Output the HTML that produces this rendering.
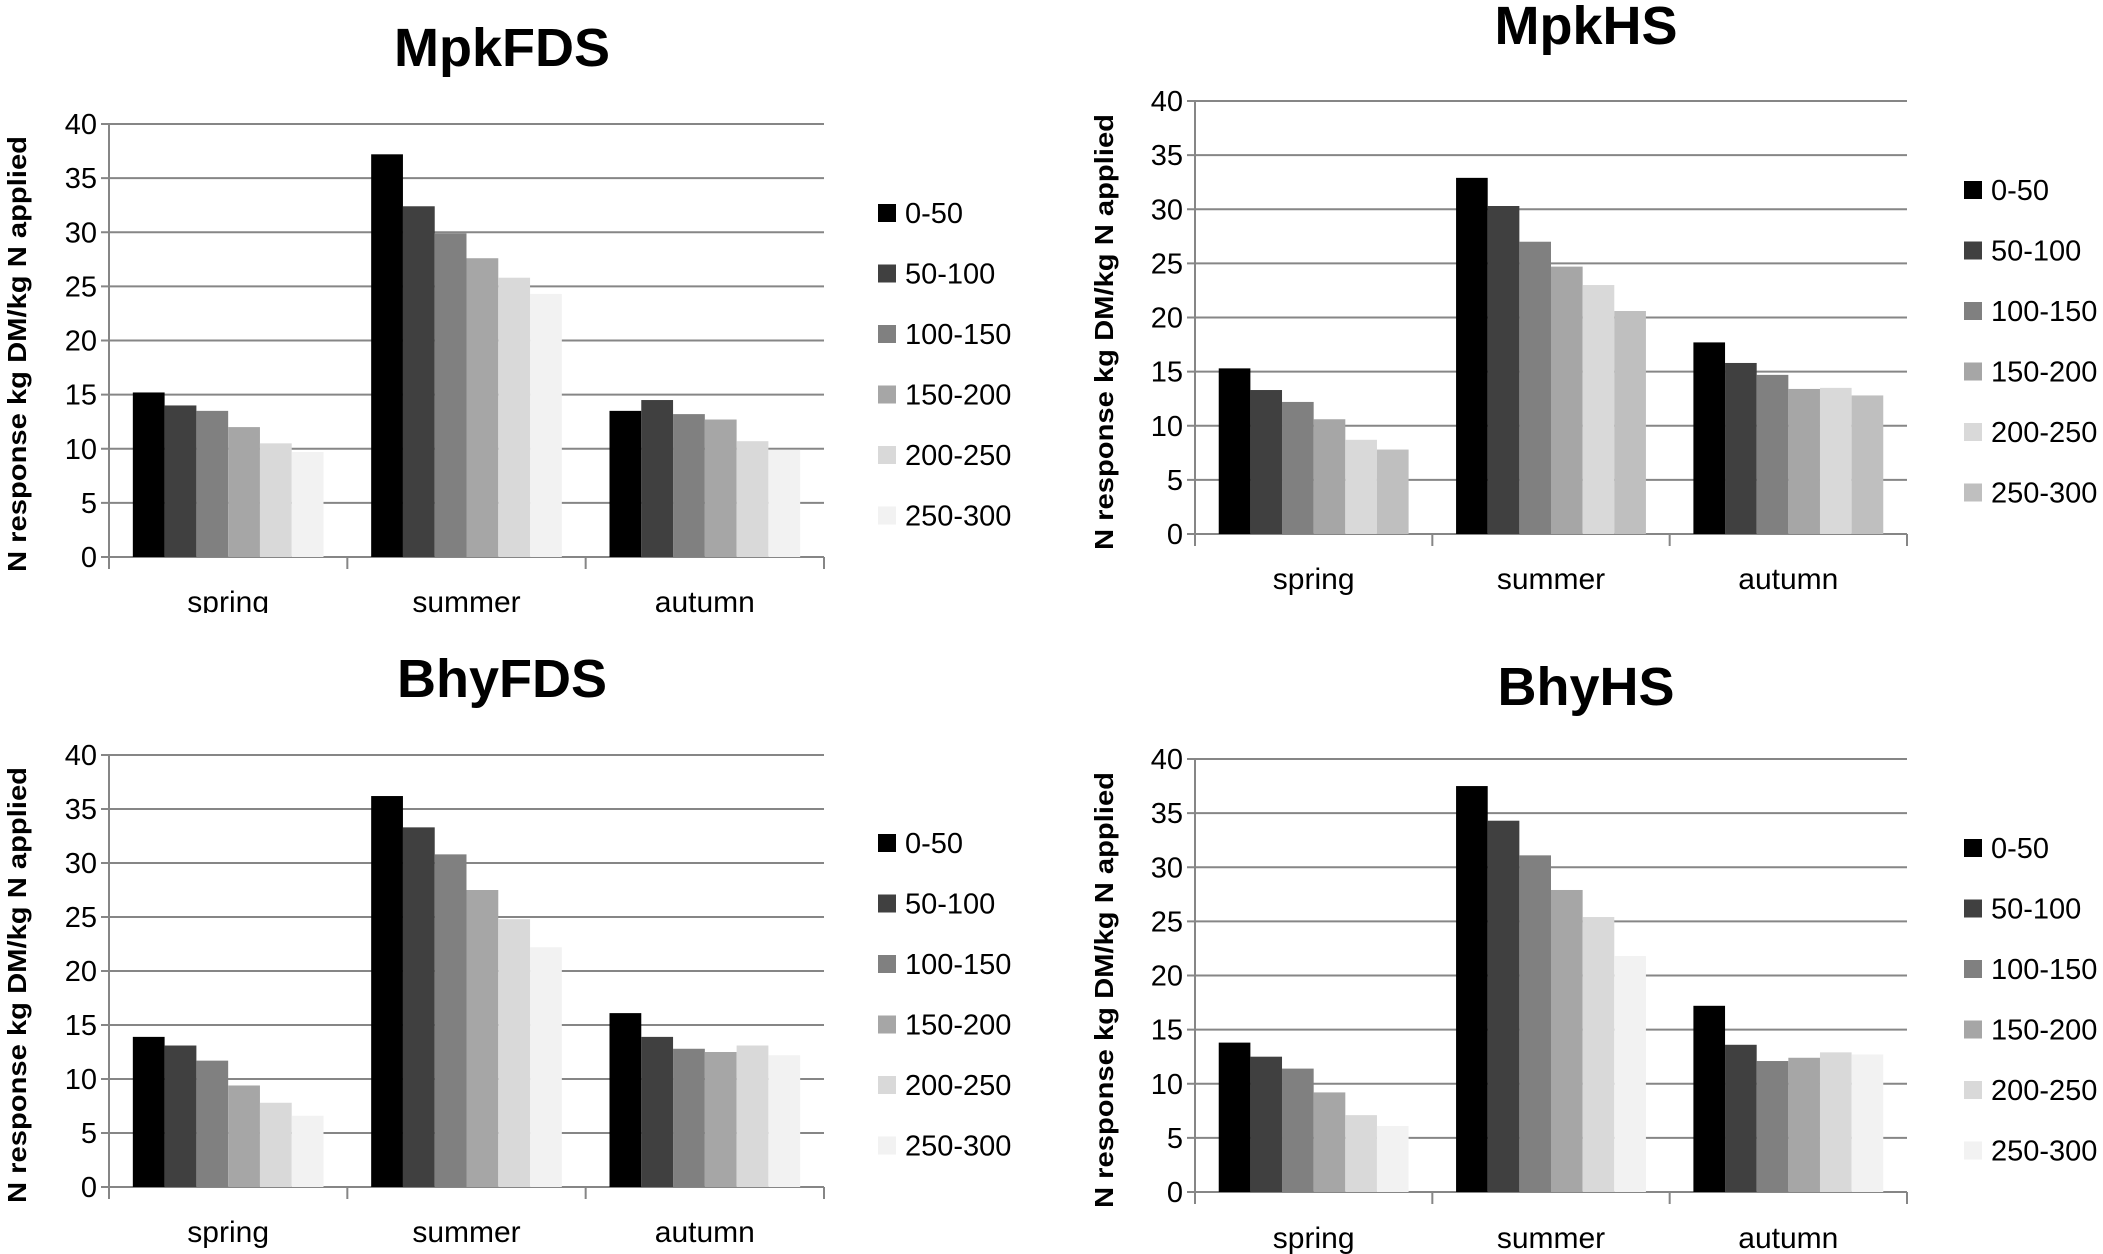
<!DOCTYPE html>
<html><head><meta charset="utf-8"><style>
html,body{margin:0;padding:0;background:#fff;}
svg{display:block;}
text{font-family:"Liberation Sans Narrow","Liberation Sans",sans-serif;}
</style></head><body>
<svg id="fig" width="2103" height="1254" viewBox="0 0 2103 1254" xmlns="http://www.w3.org/2000/svg">
<defs><clipPath id="clipTL"><rect x="0" y="0" width="1050" height="613"/></clipPath></defs>
</svg>
<script>
const categories = ["spring","summer","autumn"];
const seriesNames = ["0-50","50-100","100-150","150-200","200-250","250-300"];
const yTicks = [0,5,10,15,20,25,30,35,40];
const titles = ["MpkFDS","MpkHS","BhyFDS","BhyHS"];
const mpkFDS = [[15.2,14.0,13.5,12.0,10.5,9.7],[37.2,32.4,29.9,27.6,25.8,24.3],[13.5,14.5,13.2,12.7,10.7,9.9]];
const mpkHS  = [[15.3,13.3,12.2,10.6,8.7,7.8],[32.9,30.3,27.0,24.7,23.0,20.6],[17.7,15.8,14.7,13.4,13.5,12.8]];
const bhyFDS = [[13.9,13.1,11.7,9.4,7.8,6.6],[36.2,33.3,30.8,27.5,24.8,22.2],[16.1,13.9,12.8,12.5,13.1,12.2]];
const bhyHS  = [[13.8,12.5,11.4,9.2,7.1,6.1],[37.5,34.3,31.1,27.9,25.4,21.8],[17.2,13.6,12.1,12.4,12.9,12.7]];

const NS="http://www.w3.org/2000/svg";
const svg=document.getElementById('fig');
function mk(tag,attrs,parent){const e=document.createElementNS(NS,tag);for(const k in attrs)e.setAttribute(k,attrs[k]);parent.appendChild(e);return e;}

const panels=[
 {data:mpkFDS,title:titles[0],x0:109,x1:824,yTop:124,yBot:557,tx:502,ty:48,lx:878,ly:204,yt:354,ytx:17,clip:true,lastColor:"#f2f2f2",catY:612},
 {data:mpkHS,title:titles[1],x0:1195,x1:1907,yTop:101,yBot:534,tx:1586,ty:26,lx:1964,ly:181,yt:332,ytx:1104,clip:false,lastColor:"#bfbfbf",catY:589},
 {data:bhyFDS,title:titles[2],x0:109,x1:824,yTop:755,yBot:1187,tx:502,ty:679,lx:878,ly:834,yt:985,ytx:17,clip:false,lastColor:"#f2f2f2",catY:1242},
 {data:bhyHS,title:titles[3],x0:1195,x1:1907,yTop:759,yBot:1192,tx:1586,ty:687,lx:1964,ly:839,yt:990,ytx:1104,clip:false,lastColor:"#f2f2f2",catY:1248}
];

panels.forEach((p,pi)=>{
 const g=mk('g',{},svg);
 
 
 if(p.clip) g.setAttribute('clip-path','url(#clipTL)');
 const colors=["#000000","#404040","#808080","#a6a6a6","#d9d9d9",p.lastColor];
 const yS=v=>p.yBot-(v/40)*(p.yBot-p.yTop);
 const catW=(p.x1-p.x0)/categories.length;
 const xC=i=>p.x0+catW*i;
 // title
 const t=mk('text',{x:p.tx,y:p.ty+18,'text-anchor':'middle','font-size':54,'font-weight':'bold',fill:'#000'},g);
 t.textContent=p.title;
 
 
 // grid + ticks
 yTicks.forEach(v=>{
  const y=yS(v);
  const ln=mk('line',{x1:p.x0-8,x2:p.x1,y1:y,y2:y,stroke:'#868686','stroke-width':2},g);
  
  
  const tl=mk('text',{x:p.x0-12,y:y+10,'text-anchor':'end','font-size':29,fill:'#000'},g);
  tl.textContent=v;
  
  
 });
 const ax=mk('line',{x1:p.x0,x2:p.x0,y1:p.yTop,y2:p.yBot+12,stroke:'#868686','stroke-width':2},g);
 
 
 for(let i=1;i<=categories.length;i++){
  const tk=mk('line',{x1:xC(i),x2:xC(i),y1:p.yBot,y2:p.yBot+12,stroke:'#868686','stroke-width':2},g);
  
  
 }
 // bars
 const pad=catW*0.1;
 const bw=(catW-2*pad)/seriesNames.length;
 categories.forEach((c,ci)=>{
  p.data[ci].forEach((v,si)=>{
   const x=xC(ci)+pad+si*bw;
   const r=mk('rect',{x:x,y:yS(v),width:bw,height:yS(0)-yS(v),fill:colors[si]},g);
   
   
  });
  const cl=mk('text',{x:xC(ci)+catW/2,y:p.catY,'text-anchor':'middle','font-size':30,fill:'#000'},g);
  cl.textContent=c;
  
  
 });
 // legend
 seriesNames.forEach((s,si)=>{
  const y=p.ly+si*60.5;
  const sw=mk('rect',{x:p.lx,y:y,width:18,height:18,fill:colors[si]},g);
  
  
  const lt=mk('text',{x:p.lx+27,y:y+19,'font-size':29,fill:'#000'},g);
  lt.textContent=s;
  
  
 });
 // y-axis title
 const yt=mk('text',{x:0,y:0,transform:`translate(${p.ytx+9},${p.yt}) rotate(-90)`,'text-anchor':'middle','font-size':26,'font-weight':'bold',fill:'#000',textLength:436,lengthAdjust:'spacingAndGlyphs',style:'font-family:"Liberation Sans",sans-serif'},g);
 yt.textContent='N response kg DM/kg N applied';
 
 
});
</script>
</body></html>
